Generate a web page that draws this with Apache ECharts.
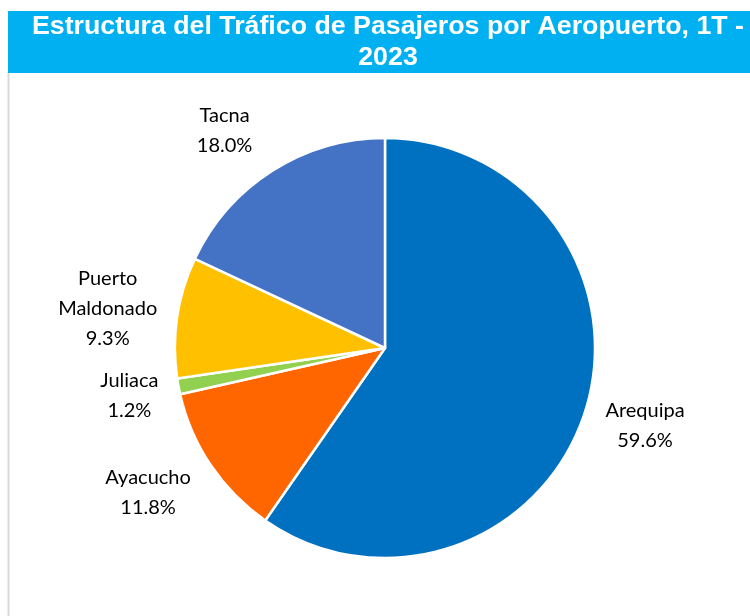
<!DOCTYPE html>
<html>
<head>
<meta charset="utf-8">
<script src="https://cdn.jsdelivr.net/npm/echarts@6/dist/echarts.min.js"></script>
<style>
  html, body { margin: 0; padding: 0; background: #fff; }
  #chart { width: 750px; height: 616px; }
</style>
</head>
<body>
<div id="chart"></div>
<script>
const titleText = 'Estructura del Tráfico de Pasajeros por Aeropuerto, 1T -\n2023';
const airports = ['Arequipa', 'Ayacucho', 'Juliaca', 'Puerto\nMaldonado', 'Tacna'];
const shares = [59.6, 11.8, 1.2, 9.3, 18.0];
const sliceColors = ['#0070C0', '#FF6600', '#92D050', '#FFC000', '#4472C4'];

const chart = echarts.init(document.getElementById('chart'), null, { renderer: 'canvas' });

// place each label beside the rim point at its slice's mid angle (Excel "outside end" style)
function placeLabel(params) {
  const data = chart.getModel().getSeriesByIndex(0).getData();
  const lay = data.getItemLayout(params.dataIndex);
  const mid = (lay.startAngle + lay.endAngle) / 2;
  const dx = Math.cos(mid), dy = Math.sin(mid);
  const w = params.labelRect.width, h = params.labelRect.height;
  const rimX = lay.cx + dx * lay.r, rimY = lay.cy + dy * lay.r;
  return {
    x: rimX + Math.sign(dx) * (w / 2 + 20),
    y: rimY + dy * (h / 2 + 18),
    align: 'center',
    verticalAlign: 'middle'
  };
}

chart.setOption({
  animation: false,
  graphic: [
    { type: 'rect', shape: { x: 8, y: 11, width: 742, height: 62 }, style: { fill: '#00B0F0' }, z: 0 },
    { type: 'line', shape: { x1: 8.5, y1: 73, x2: 8.5, y2: 616 }, style: { stroke: '#D9D9D9', lineWidth: 2 }, z: 0 },
    {
      type: 'text', z: 1,
      x: 388, y: 12, scaleX: 1.07,
      style: {
        text: titleText, x: 0, y: 0,
        fill: '#fff', font: 'bold 25px "Liberation Sans", Arial, sans-serif',
        align: 'center', verticalAlign: 'top', lineHeight: 31
      }
    }
  ],
  series: [{
    type: 'pie',
    center: [385, 348],
    radius: 210,
    startAngle: 90,
    clockwise: true,
    avoidLabelOverlap: false,
    itemStyle: { borderColor: '#fff', borderWidth: 2.5 },
    label: {
      show: true,
      position: 'outside',
      formatter: (p) => p.name + '\n' + p.value.toFixed(1) + '%',
      color: '#000',
      fontFamily: 'Lato',
      fontSize: 20,
      lineHeight: 30
    },
    labelLine: { show: false },
    labelLayout: placeLabel,
    data: airports.map((name, i) => ({ name: name, value: shares[i], itemStyle: { color: sliceColors[i] } }))
  }]
});
</script>
</body>
</html>
